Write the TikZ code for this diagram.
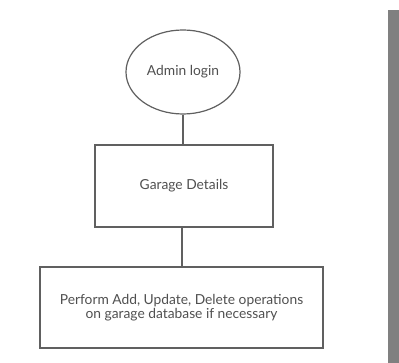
\documentclass[tikz,border=0pt]{standalone}
\usepackage{fontspec}
\setmainfont{Lato}
\usetikzlibrary{shapes.geometric}
\definecolor{linec}{HTML}{606060}
\definecolor{textc}{HTML}{505050}
\definecolor{barc}{HTML}{808080}
\begin{document}
\begin{tikzpicture}[x=1pt,y=-1pt,
  shapeline/.style={draw=linec,line width=1.2pt},
  lbl/.style={text=textc,font=\fontsize{13.8}{14.5}\selectfont,align=center},
  conn/.style={draw=linec,line width=1.2pt}]
\useasboundingbox[fill=white] (0,0) rectangle (399,363);
\node[shapeline,ellipse,minimum width=114,minimum height=84,inner sep=0,lbl] (login) at (183,72) {Admin login};
\node[shapeline,rectangle,minimum width=178,minimum height=82,inner sep=0,lbl] (details) at (184,186) {Garage Details};
\node[shapeline,rectangle,minimum width=283,minimum height=81,inner sep=0,lbl] (ops) at (181.5,307.5) {Perform Add, Update, Delete operations\\on garage database if necessary};
\coordinate (midtop) at (182,227);
\coordinate (midbot) at (182,267);
\draw[conn] (login.south) -- (login.south |- details.north);
\draw[conn] (details.south -| midtop) -- (ops.north -| midbot);
\fill[barc] (388,10) rectangle (399,363);
\end{tikzpicture}
\end{document}
